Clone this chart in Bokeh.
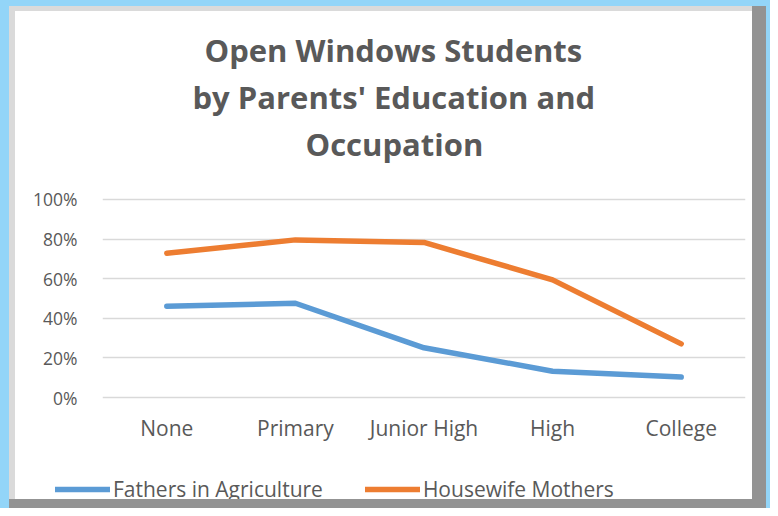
from bokeh.plotting import figure
from bokeh.models import Range1d, Title, Legend, LegendItem, FixedTicker, NumeralTickFormatter, Spacer
from bokeh.layouts import column
from bokeh.embed import file_html
from bokeh.resources import INLINE

categories = ["None", "Primary", "Junior High", "High", "College"]
fathers_agri = [0.461, 0.476, 0.251, 0.133, 0.103]
housewife_mothers = [0.729, 0.796, 0.783, 0.594, 0.271]
y_ticks = [0, 0.2, 0.4, 0.6, 0.8, 1.0]
title_lines = ["Open Windows Students", "by Parents' Education and", "Occupation"]
series_names = ["Fathers in Agriculture", "Housewife Mothers"]
series_colors = ["#5B9BD5", "#ED7D31"]

TXT = "#595959"
FONT = "Open Sans"
W, H1, H2, H3 = 770, 470, 29, 9
BLUE = "#93D5F8"

p = figure(x_range=categories, y_range=Range1d(-0.01, 1.01),
           width=W, height=H1, output_backend="svg", toolbar_location=None,
           min_border_left=102, min_border_right=25, min_border_top=197, min_border_bottom=71,
           background_fill_color="white")
p.border_fill_alpha = 0
p.outline_line_color = None
p.frame_align = False

p.line(categories, fathers_agri, line_color=series_colors[0], line_width=5.5,
       line_cap="round", line_join="round")
p.line(categories, housewife_mothers, line_color=series_colors[1], line_width=5.5,
       line_cap="round", line_join="round")

# spacer between plot frame and title block
p.add_layout(Title(text=" ", text_font_size="10px", standoff=18), "above")
offsets = {title_lines[0]: 102, title_lines[1]: 90, title_lines[2]: 203}
for t in reversed(title_lines):
    p.add_layout(Title(text=t, align="left", offset=offsets[t], text_font=FONT,
                       text_font_size="31px", text_font_style="bold", text_color=TXT,
                       standoff=3), "above")

p.xgrid.grid_line_color = None
p.ygrid.grid_line_color = "#D9D9D9"
p.ygrid.grid_line_width = 1.5
p.yaxis.ticker = FixedTicker(ticks=y_ticks)
p.yaxis.formatter = NumeralTickFormatter(format="0%")
for ax in (p.xaxis[0], p.yaxis[0]):
    ax.axis_line_color = None
    ax.major_tick_line_color = None
    ax.minor_tick_line_color = None
    ax.major_label_text_font = FONT
    ax.major_label_text_color = TXT
p.xaxis.major_label_text_font_size = "21px"
p.yaxis.major_label_text_font_size = "17.5px"
p.yaxis.major_label_standoff = 19
p.xaxis.major_label_standoff = 8

# legend strip below the chart (keys are off-range so only the legend shows)
lg = figure(width=W, height=H2, output_backend="svg", toolbar_location=None,
            x_range=Range1d(0, 1), y_range=Range1d(0, 1),
            x_axis_type=None, y_axis_type=None, min_border=0)
lg.frame_align = False
lg.border_fill_alpha = 0
lg.background_fill_alpha = 0
lg.outline_line_color = None
lg.grid.visible = False
keys = [lg.line([0, 1], [5, 5], line_color=c, line_width=5.5, line_cap="round")
        for c in series_colors]
legend = Legend(items=[LegendItem(label=n, renderers=[r]) for n, r in zip(series_names, keys)],
                orientation="horizontal", location=(55, -4),
                border_line_color=None, background_fill_alpha=0,
                glyph_width=55, glyph_height=20, label_standoff=3, spacing=42,
                label_text_font=FONT, label_text_font_size="21px", label_text_color=TXT,
                padding=0, margin=0)
lg.add_layout(legend, "center")

layout = column(p, lg, Spacer(width=W, height=H3), spacing=0, styles={
    "background-color": "white",
    "box-shadow": (f"inset 9px 6px 0 0 {BLUE}, inset -4px 0 0 0 {BLUE}, "
                   "inset -18px -9px 0 0 #939393, inset 15px 11px 0 0 #dadada"),
})

open("out.html", "w").write(file_html(layout, INLINE))
